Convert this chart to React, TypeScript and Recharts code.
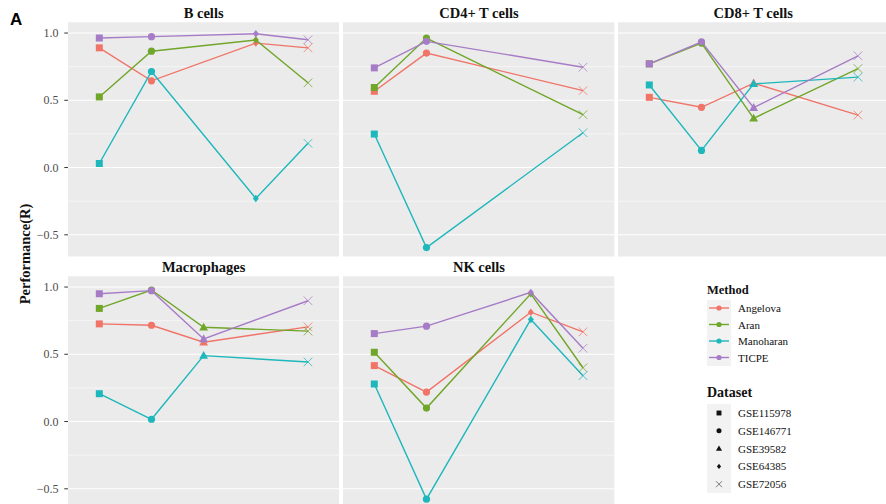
import React from 'react';
import { LineChart, Line, XAxis, YAxis, CartesianGrid } from 'recharts';

const datasets = ['GSE115978', 'GSE146771', 'GSE39582', 'GSE64385', 'GSE72056'];
const methods = ['Angelova', 'Aran', 'Manoharan', 'TICPE'];
const methodColors = ['#F07468', '#70A62A', '#1EB7BB', '#A77CC6'];
const yTicks = [-0.5, -0.25, 0, 0.25, 0.5, 0.75, 1.0];

// values per method, ordered like `datasets` (null = dataset not used in that panel)
const bCells: Record<string, (number | null)[]> = {
  Angelova: [0.89, 0.645, null, 0.925, 0.89],
  Aran: [0.525, 0.865, null, 0.948, 0.63],
  Manoharan: [0.03, 0.714, null, -0.23, 0.18],
  TICPE: [0.963, 0.973, null, 0.995, 0.95],
};
const cd4Cells: Record<string, (number | null)[]> = {
  Angelova: [0.567, 0.851, null, null, 0.572],
  Aran: [0.595, 0.963, null, null, 0.393],
  Manoharan: [0.249, -0.595, null, null, 0.259],
  TICPE: [0.741, 0.938, null, null, 0.746],
};
const cd8Cells: Record<string, (number | null)[]> = {
  Angelova: [0.522, 0.448, 0.627, null, 0.39],
  Aran: [0.771, 0.925, 0.366, null, 0.736],
  Manoharan: [0.614, 0.127, 0.622, null, 0.672],
  TICPE: [0.771, 0.935, 0.445, null, 0.831],
};
const macrophages: Record<string, (number | null)[]> = {
  Angelova: [0.726, 0.716, 0.59, null, 0.704],
  Aran: [0.841, 0.978, 0.701, null, 0.672],
  Manoharan: [0.207, 0.017, 0.49, null, 0.443],
  TICPE: [0.95, 0.973, 0.614, null, 0.898],
};
const nkCells: Record<string, (number | null)[]> = {
  Angelova: [0.416, 0.219, null, 0.813, 0.667],
  Aran: [0.515, 0.1, null, 0.95, 0.4],
  Manoharan: [0.279, -0.577, null, 0.759, 0.341],
  TICPE: [0.654, 0.709, null, 0.96, 0.545],
};

const SERIF = '"Liberation Serif", "Times New Roman", serif';
const PANEL_W = 271.3;
const PANEL_H = 235;
const AXIS_W = 68;

const toRows = (vals: Record<string, (number | null)[]>) =>
  datasets.map((d, i) => {
    const row: any = { x: i + 1, dataset: d };
    methods.forEach((m) => (row[m] = vals[m][i]));
    return row;
  });

const Shape = ({ kind, cx, cy, color }: { kind: string; cx: number; cy: number; color: string }) => {
  if (kind === 'GSE115978') return <rect x={cx - 3.5} y={cy - 3.5} width={7} height={7} fill={color} />;
  if (kind === 'GSE146771') return <circle cx={cx} cy={cy} r={3.6} fill={color} />;
  if (kind === 'GSE39582')
    return <polygon points={`${cx},${cy - 4.6} ${cx - 4.4},${cy + 3.2} ${cx + 4.4},${cy + 3.2}`} fill={color} />;
  if (kind === 'GSE64385')
    return <polygon points={`${cx},${cy - 3.7} ${cx + 3},${cy} ${cx},${cy + 3.7} ${cx - 3},${cy}`} fill={color} />;
  return (
    <g stroke={color} strokeWidth={1} opacity={0.75}>
      <line x1={cx - 4.3} y1={cy - 4.3} x2={cx + 4.3} y2={cy + 4.3} />
      <line x1={cx - 4.3} y1={cy + 4.3} x2={cx + 4.3} y2={cy - 4.3} />
    </g>
  );
};

const makeDot = (color: string) => (props: any) => {
  const { cx, cy, payload, index, value } = props;
  if (value == null || cx == null || cy == null) return <g key={`e-${index}`} />;
  return (
    <g key={`d-${index}`}>
      <Shape kind={payload.dataset} cx={cx} cy={cy} color={color} />
    </g>
  );
};

const gridLine = (p: any) => {
  const major = p.index % 2 === 0;
  return (
    <line
      key={`g-${p.index}`}
      x1={p.x1}
      x2={p.x2}
      y1={p.y1}
      y2={p.y2}
      stroke="#FFFFFF"
      strokeWidth={major ? 1.1 : 0.55}
    />
  );
};

const YTick = (props: any) => {
  const { x, y, payload } = props;
  const v = payload.value;
  if (Math.abs(v * 2 - Math.round(v * 2)) > 1e-6) return <g />;
  const label = v < 0 ? '\u2212' + Math.abs(v).toFixed(1) : v.toFixed(1);
  return (
    <g>
      <line x1={x - 3.7} x2={x} y1={y} y2={y} stroke="#333333" strokeWidth={1} />
      <text x={x - 9.5} y={y} dy={4} textAnchor="end" fontFamily={SERIF} fontSize={12} fill="#4D4D4D">
        {label}
      </text>
    </g>
  );
};

const Panel = ({
  title,
  vals,
  left,
  top,
  showY,
}: {
  title: string;
  vals: Record<string, (number | null)[]>;
  left: number;
  top: number;
  showY: boolean;
}) => {
  const data = toRows(vals);
  const w = showY ? PANEL_W + AXIS_W : PANEL_W;
  const chartLeft = showY ? left - AXIS_W : left;
  return (
    <>
      <div
        style={{
          position: 'absolute',
          left,
          top: top - 17,
          width: PANEL_W,
          textAlign: 'center',
          fontFamily: SERIF,
          fontWeight: 'bold',
          fontSize: 14.5,
          lineHeight: '17px',
          color: '#111',
        }}
      >
        {title}
      </div>
      <div style={{ position: 'absolute', left: chartLeft, top }}>
        <LineChart width={w} height={PANEL_H} data={data} margin={{ top: 0, right: 0, bottom: 0, left: 0 }}>
          <CartesianGrid fill="#EBEBEB" fillOpacity={1} vertical={false} horizontal={gridLine} />
          <XAxis type="number" dataKey="x" domain={[0.4, 5.6]} hide allowDataOverflow />
          <YAxis
            type="number"
            domain={[-0.665, 1.082]}
            ticks={yTicks}
            allowDataOverflow
            hide={!showY}
            width={showY ? AXIS_W : 0}
            axisLine={false}
            tickLine={false}
            tickSize={0}
            tickMargin={0}
            tick={<YTick />}
            interval={0}
          />
          {methods.map((m, i) => (
            <Line
              key={m}
              type="linear"
              dataKey={m}
              stroke={methodColors[i]}
              strokeWidth={1.4}
              connectNulls
              dot={makeDot(methodColors[i])}
              activeDot={false}
              isAnimationActive={false}
            />
          ))}
        </LineChart>
      </div>
    </>
  );
};

const App = () => {
  const cols = [68, 343.3, 617.6];
  const rows = [22, 276];
  return (
    <div
      style={{
        position: 'fixed',
        left: 0,
        top: 0,
        width: 886,
        height: 504,
        overflow: 'hidden',
        background: '#FFFFFF',
      }}
    >
      <div
        style={{
          position: 'absolute',
          left: 10,
          top: 10,
          fontFamily: '"Liberation Sans", Arial, sans-serif',
          fontWeight: 'bold',
          fontSize: 17,
          lineHeight: '20px',
        }}
      >
        A
      </div>
      <div
        style={{
          position: 'absolute',
          left: 25,
          top: 254,
          transform: 'translate(-50%, -50%) rotate(-90deg)',
          fontFamily: SERIF,
          fontWeight: 'bold',
          fontSize: 14.5,
          whiteSpace: 'nowrap',
          color: '#111',
        }}
      >
        Performance(R)
      </div>
      <Panel title="B cells" vals={bCells} left={cols[0]} top={rows[0]} showY />
      <Panel title="CD4+ T cells" vals={cd4Cells} left={cols[1]} top={rows[0]} showY={false} />
      <Panel title="CD8+ T cells" vals={cd8Cells} left={cols[2]} top={rows[0]} showY={false} />
      <Panel title="Macrophages" vals={macrophages} left={cols[0]} top={rows[1]} showY />
      <Panel title="NK cells" vals={nkCells} left={cols[1]} top={rows[1]} showY={false} />

      {/* Method legend */}
      <div
        style={{
          position: 'absolute',
          left: 707,
          top: 282,
          fontFamily: SERIF,
          fontWeight: 'bold',
          fontSize: 12.5,
          lineHeight: '16px',
          color: '#111',
        }}
      >
        Method
      </div>
      <svg style={{ position: 'absolute', left: 700, top: 298 }} width={180} height={72}>
        <rect x={7} y={2} width={24} height={66} fill="#F2F2F2" />
        {methods.map((m, i) => {
          const y = 10 + i * 16.5;
          return (
            <g key={m}>
              <line x1={9} x2={29} y1={y} y2={y} stroke={methodColors[i]} strokeWidth={1.4} />
              <circle cx={19} cy={y} r={2.6} fill={methodColors[i]} />
              <text x={38} y={y} dy={4} fontFamily={SERIF} fontSize={11} fill="#111">
                {m}
              </text>
            </g>
          );
        })}
      </svg>

      {/* Dataset legend */}
      <div
        style={{
          position: 'absolute',
          left: 707,
          top: 384,
          fontFamily: SERIF,
          fontWeight: 'bold',
          fontSize: 14,
          lineHeight: '18px',
          color: '#111',
        }}
      >
        Dataset
      </div>
      <svg style={{ position: 'absolute', left: 700, top: 402 }} width={180} height={95}>
        <rect x={7} y={2} width={24} height={89} fill="#F2F2F2" />
        {datasets.map((d, i) => {
          const y = 11 + i * 17.8;
          return (
            <g key={d}>
              <g transform={`translate(19 ${y}) scale(0.7) translate(-19 ${-y})`}>
                <Shape kind={d} cx={19} cy={y} color="#111111" />
              </g>
              <text x={38} y={y} dy={4} fontFamily={SERIF} fontSize={11} fill="#111">
                {d}
              </text>
            </g>
          );
        })}
      </svg>
    </div>
  );
};

export default App;
